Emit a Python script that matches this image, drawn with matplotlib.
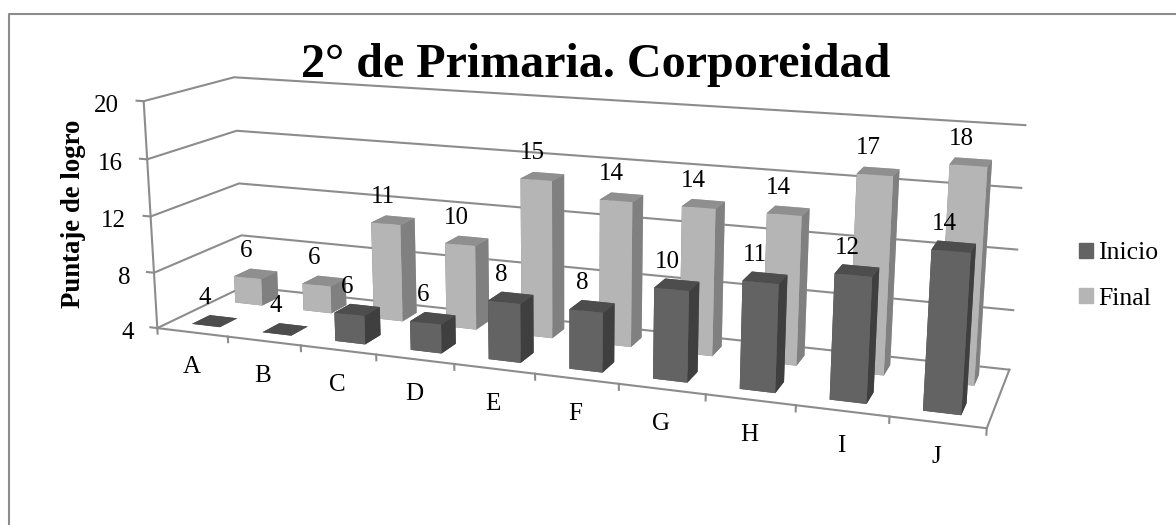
import numpy as np
import matplotlib
matplotlib.use("Agg")
import matplotlib.pyplot as plt
from mpl_toolkits.mplot3d import proj3d
from matplotlib.patches import Patch

plt.rcParams['font.family'] = ['Liberation Serif']

categories = ["A", "B", "C", "D", "E", "F", "G", "H", "I", "J"]
inicio = [4, 4, 6, 6, 8, 8, 10, 11, 12, 14]
final = [6, 6, 11, 10, 15, 14, 14, 14, 17, 18]
z_ticks = [4, 8, 12, 16, 20]

W, H = 1176, 525
S = 1000
fig = plt.figure(figsize=(W / 100, H / 100), dpi=100)
cx, cy = 553.2, 245.9
ax = fig.add_axes([(cx - S / 2) / W, (H - cy - S / 2) / H, S / W, S / H], projection='3d')
ax.set_xlim(0, 10)
ax.set_ylim(0, 1)
ax.set_zlim(4, 20)

# camera was fitted to the corners of the chart box
ax.view_init(13.788, -69.41)
ax.set_proj_type('persp', focal_length=0.314)
ax.set_box_aspect((1, 0.2032, 0.2822), zoom=0.8826)
ax.set_axis_off()
ax.computed_zorder = False
M = ax.get_proj()


def label(x, y, z, s, dx, dy, **kw):
    # text next to a 3d point, moved by some pixels
    px, py, _ = proj3d.proj_transform(x, y, z, M)
    ax.annotate(s, (px, py), xytext=(dx, dy), textcoords='offset pixels', ha='center', va='center',
                fontsize=18, zorder=100, **kw)


grid = '#8c8c8c'
for z in z_ticks:
    ax.plot([0, 0, 10], [0, 1, 1], [z, z, z], color=grid, lw=1.5, zorder=1)
    ax.plot([-0.1, 0], [0, 0], [z, z], color=grid, lw=1.5, zorder=1)
    label(0, 0, z, str(z), -37 + (z == 4 or z == 8) * 7, -5)
ax.plot([0, 0], [0, 0], [4, 20], color=grid, lw=1.5, zorder=1)
ax.plot([0, 10, 10], [0, 0, 1], [4, 4, 4], color=grid, lw=1.5, zorder=1)
for i in range(11):
    ax.plot([i, i], [0, 0], [4, 3.6], color=grid, lw=1.5, zorder=1)

order = 2
for vals, yc, cols in [(final, .75, ('#b5b5b5', '#8f8f8f', '#808080')),
                       (inicio, .25, ('#636363', '#4d4d4d', '#3f3f3f'))]:
    front, top, side = cols
    for i, v in enumerate(vals):
        ax.bar3d(i + .3, yc - .1, 4, .4, .2, v - 4, color=[top, top, front, front, side, side],
                 shade=False, zorder=order)
        order += 1
        label(i + .5, yc, v, str(v), -10, 23)

for i, c in enumerate(categories):
    label(i + .5, 0, 4, c, -1, -35)

fig.text(596 / W, 1 - 65 / H, "2° de Primaria. Corporeidad", fontsize=34.6, weight='bold', ha='center', va='center')
fig.text(74 / W, 1 - 214 / H, "Puntaje de logro", fontsize=19.3, weight='bold', rotation=90, ha='center', va='center')

handles = [Patch(color='#636363', label='Inicio'), Patch(color='#b5b5b5', label='Final')]
fig.legend(handles=handles, loc='center left', bbox_to_anchor=(1056 / W, 1 - 276 / H), frameon=False, fontsize=18.5,
           handlelength=.55, handleheight=.55, handletextpad=.2, labelspacing=.9)

# only the top and left edges of the outer frame show
fig.add_artist(plt.Line2D([9 / W, 9 / W, 1], [0, 1 - 14 / H, 1 - 14 / H], color=grid, lw=1.5))
fig.savefig("out.png", dpi=100)
